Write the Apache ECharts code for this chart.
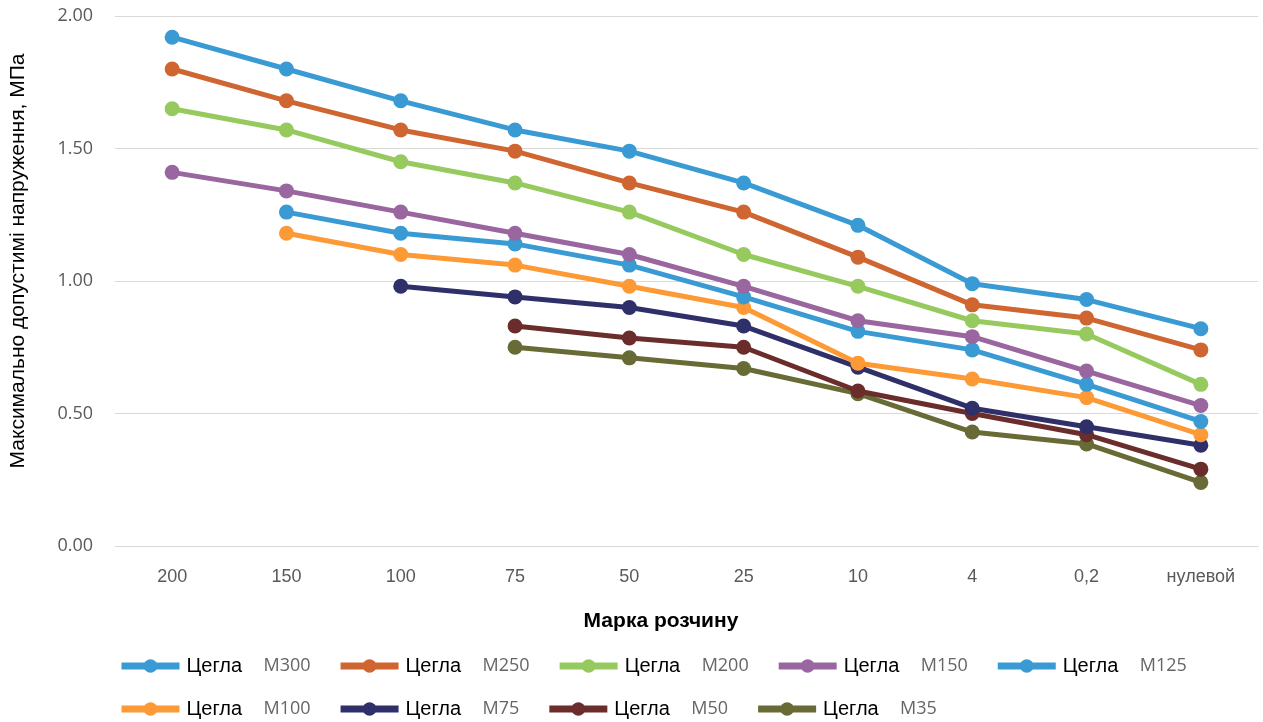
<!DOCTYPE html>
<html><head><meta charset="utf-8">
<script src="https://cdn.jsdelivr.net/npm/echarts@6/dist/echarts.min.js"></script>
<style>html,body{margin:0;padding:0;background:#fff}#c{width:1263px;height:722px}</style>
</head><body><div id="c"></div>
<script>
const categories = ['200','150','100','75','50','25','10','4','0,2','нулевой'];
const yTicks = [0, 0.5, 1.0, 1.5, 2.0];
const m300 = [1.92,1.80,1.68,1.57,1.49,1.37,1.21,0.99,0.93,0.82];
const m250 = [1.80,1.68,1.57,1.49,1.37,1.26,1.09,0.91,0.86,0.74];
const m200 = [1.65,1.57,1.45,1.37,1.26,1.10,0.98,0.85,0.80,0.61];
const m150 = [1.41,1.34,1.26,1.18,1.10,0.98,0.85,0.79,0.66,0.53];
const m125 = [null,1.26,1.18,1.14,1.06,0.94,0.81,0.74,0.61,0.47];
const m100 = [null,1.18,1.10,1.06,0.98,0.90,0.69,0.63,0.56,0.42];
const m75  = [null,null,0.98,0.94,0.90,0.83,0.675,0.52,0.45,0.38];
const m50  = [null,null,null,0.83,0.785,0.75,0.585,0.50,0.42,0.29];
const m35  = [null,null,null,0.75,0.71,0.67,0.575,0.43,0.385,0.24];
const seriesNames = ['М300','М250','М200','М150','М125','М100','М75','М50','М35'];
const seriesData = [m300,m250,m200,m150,m125,m100,m75,m50,m35];
const colors = ['#3a9bd4','#cf6530','#96ca5e','#9a66a0','#3a9bd4','#fd9a35','#2f2f6a','#6a2d2b','#686b36'];

const series = seriesData.map((d,i)=>({
  name: 'Цегла ' + seriesNames[i],
  type: 'line',
  data: d,
  connectNulls: false,
  symbol: 'circle',
  symbolSize: 15,
  lineStyle: {width: 5, color: colors[i]},
  itemStyle: {color: colors[i]},
  emphasis: {disabled: true},
  z: 10 - i
}));

const legendCommon = {
  left: 113,
  itemWidth: 58,
  itemHeight: 17,
  itemGap: 26.5,
  lineStyle: {width: 7},
  formatter: function(n){ const p = n.split(' '); return '{a|' + p[0] + '}{b|' + p[1] + '}'; },
  textStyle: {
    rich: {
      a: {fontFamily: 'Liberation Sans', fontSize: 20, color: '#000', width: 77, padding:[0,0,0,2]},
      b: {fontFamily: 'Open Sans', fontSize: 18, color: '#666', width: 67}
    }
  }
};

const chart = echarts.init(document.getElementById('c'));
chart.setOption({
  animation: false,
  color: colors,
  grid: {left: 115, right: 5, top: 16, bottom: 176},
  title: {
    text: 'Марка розчину', left: 656, top: 606, textAlign: 'center',
    textStyle: {fontFamily: 'Liberation Sans Narrow, Liberation Sans', fontWeight: 'bold', fontSize: 21, color: '#000'}
  },
  legend: [
    Object.assign({}, legendCommon, {top: 651, data: series.slice(0,5).map(s=>s.name)}),
    Object.assign({}, legendCommon, {top: 694, data: series.slice(5).map(s=>s.name)})
  ],
  xAxis: {
    type: 'category',
    data: categories,
    boundaryGap: true,
    axisLine: {show: true, lineStyle: {color: '#d9d9d9', width: 1}},
    axisTick: {show: false},
    axisLabel: {margin: 22, fontFamily: 'Liberation Sans Narrow, Liberation Sans', fontSize: 18, color: '#595959'}
  },
  yAxis: {
    type: 'value',
    min: yTicks[0], max: yTicks[yTicks.length-1], interval: 0.5,
    name: 'Максимально допустимі напруження, МПа',
    nameLocation: 'middle', nameGap: 86,
    nameTextStyle: {fontFamily: 'Liberation Sans', fontSize: 21, color: '#000', padding: [0,0,0,40]},
    axisLine: {show: false}, axisTick: {show: false},
    splitLine: {lineStyle: {color: '#d9d9d9', width: 1}},
    axisLabel: {margin: 22, fontFamily: 'Open Sans', fontSize: 18, color: '#595959', formatter: v => v.toFixed(2)}
  },
  series: series
});
</script></body></html>
